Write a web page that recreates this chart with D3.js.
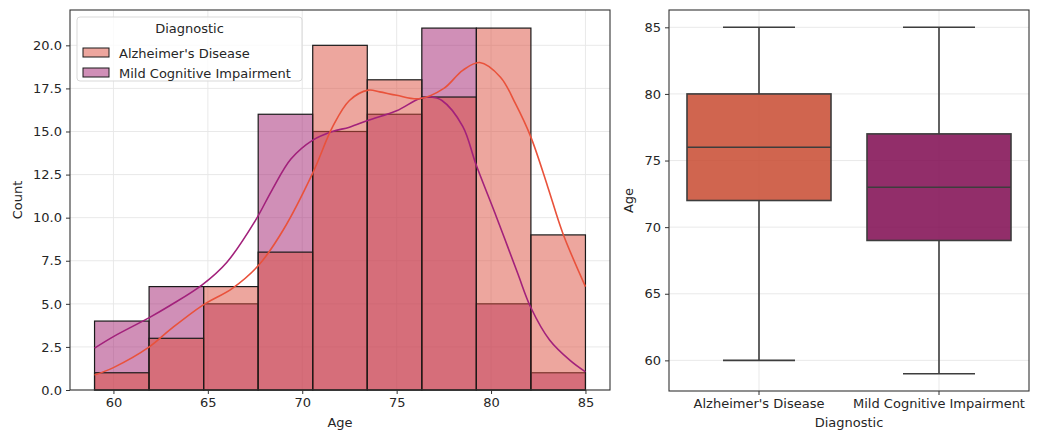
<!DOCTYPE html>
<html>
<head>
<meta charset="utf-8">
<script src="https://cdn.jsdelivr.net/npm/d3@7"></script>
<style>
    body { margin: 0; background: #fff; }
    svg { font-family: "DejaVu Sans", sans-serif; }
    .grid line { stroke: #e6e6e6; stroke-width: 0.9; }
    .axis path, .axis line { stroke: #333; }
    .axis text { font-family: "DejaVu Sans", sans-serif; font-size: 13px; fill: #262626; }
</style>
</head>
<body>
<div id="chart"></div>
<script>

// categories
const diagnostics = ["Alzheimer's Disease", "Mild Cognitive Impairment"];

// histogram: 9 bins between youngest and oldest age
const ageMin = 59;
const ageMax = 85;
const binCount = 9;
const adCounts = [1, 3, 6, 8, 20, 18, 17, 21, 9];
const mciCounts = [4, 6, 5, 16, 15, 16, 21, 5, 1];

// kde curves, [age, count]
const adKde = [
    [59, 0.87], [60, 1.3], [61.9, 2.5], [63, 3.5], [64.7, 4.9], [66.3, 5.9], [67.7, 7.25],
    [69, 9.3], [70.56, 12.6], [71.6, 15.25], [72.5, 16.8], [73.5, 17.4],
    [74.1, 17.3], [75, 17.1], [76.2, 16.9], [77.5, 17.5], [78.5, 18.55], [79.4, 19.0],
    [80.5, 18.15], [81.3, 16.6], [82.1, 14.7], [83, 11.8], [83.8, 9.1], [85, 6.0]
];
const mciKde = [
    [59, 2.43], [60, 3.1], [61.9, 4.2], [63, 4.9], [64.7, 6.1], [66, 7.4], [67.5, 9.8],
    [68.4, 11.6], [69.4, 13.4], [70.56, 14.5], [71.6, 15.0], [72.5, 15.25], [73.5, 15.65],
    [75, 16.2], [76.2, 16.9], [76.8, 17.0], [77.4, 16.8], [78.5, 15.3], [79.2, 13.1],
    [80.3, 10.0], [81.4, 6.8], [82.1, 4.8], [83.1, 2.9], [84.2, 1.7], [85, 1.05]
];

// box plot stats per diagnostic
const boxMin = [60, 59];
const boxQ1 = [72, 69];
const boxMedian = [76, 73];
const boxQ3 = [80, 77];
const boxMax = [85, 85];

// tick labels
const countTicks = [0, 2.5, 5, 7.5, 10, 12.5, 15, 17.5, 20];
const ageTicks = [60, 65, 70, 75, 80, 85];

const colors = {
    ad: "#dc4e3d",
    mci: "#a1206f",
    adLine: "#e9523b",
    mciLine: "#a2217b",
    adBox: "#c84a30",
    mciBox: "#7f0950"
};

const svg = d3.select("#chart").append("svg")
    .attr("width", 1041)
    .attr("height", 432);

/*
 *  Left panel: layered histogram with kde
 */
function drawHistogram() {
    let m = {left: 70, top: 10, width: 540, height: 380};
    let g = svg.append("g").attr("transform", "translate(" + m.left + "," + m.top + ")");

    let pad = (ageMax - ageMin) * 0.05;
    let x = d3.scaleLinear().domain([ageMin - pad, ageMax + pad]).range([0, m.width]);
    let yMax = d3.max(adCounts.concat(mciCounts)) * 1.05;
    let y = d3.scaleLinear().domain([0, yMax]).range([m.height, 0]);

    // grid
    g.append("g").attr("class", "grid")
        .selectAll("line.h").data(countTicks).join("line")
        .attr("x1", 0).attr("x2", m.width)
        .attr("y1", d => y(d)).attr("y2", d => y(d));
    g.append("g").attr("class", "grid")
        .selectAll("line.v").data(ageTicks).join("line")
        .attr("y1", 0).attr("y2", m.height)
        .attr("x1", d => x(d)).attr("x2", d => x(d));

    let edges = d3.range(binCount + 1).map(i => ageMin + i * (ageMax - ageMin) / binCount);

    // MCI drawn first, AD layered on top
    [[mciCounts, colors.mci], [adCounts, colors.ad]].forEach(([counts, col]) => {
        g.append("g").selectAll("rect").data(counts).join("rect")
            .attr("x", (d, i) => x(edges[i]))
            .attr("width", (d, i) => x(edges[i + 1]) - x(edges[i]))
            .attr("y", d => y(d))
            .attr("height", d => m.height - y(d))
            .attr("fill", col)
            .attr("fill-opacity", 0.5)
            .attr("stroke", "#1a1a1a")
            .attr("stroke-width", 1.2);
    });

    let line = d3.line()
        .x(d => x(d[0]))
        .y(d => y(d[1]))
        .curve(d3.curveCatmullRom.alpha(0.5));

    g.append("path").datum(mciKde)
        .attr("fill", "none").attr("stroke", colors.mciLine).attr("stroke-width", 1.6)
        .attr("d", line);
    g.append("path").datum(adKde)
        .attr("fill", "none").attr("stroke", colors.adLine).attr("stroke-width", 1.6)
        .attr("d", line);

    // axes
    g.append("g").attr("class", "axis")
        .attr("transform", "translate(0," + m.height + ")")
        .call(d3.axisBottom(x).tickValues(ageTicks).tickSize(4).tickPadding(4))
        .call(a => a.select(".domain").remove());
    g.append("g").attr("class", "axis")
        .call(d3.axisLeft(y).tickValues(countTicks).tickFormat(d3.format(".1f")).tickSize(4).tickPadding(4))
        .call(a => a.select(".domain").remove());

    g.append("rect")
        .attr("width", m.width).attr("height", m.height)
        .attr("fill", "none").attr("stroke", "#333").attr("stroke-width", 1.1);

    g.append("text")
        .attr("x", m.width / 2).attr("y", m.height + 37)
        .attr("text-anchor", "middle").attr("font-size", 13).attr("fill", "#262626")
        .text("Age");
    g.append("text")
        .attr("transform", "translate(-48," + m.height / 2 + ") rotate(-90)")
        .attr("text-anchor", "middle").attr("font-size", 13).attr("fill", "#262626")
        .text("Count");

    // legend
    let lg = g.append("g").attr("transform", "translate(7,7)");
    lg.append("rect")
        .attr("width", 225).attr("height", 64).attr("rx", 3)
        .attr("fill", "#fff").attr("fill-opacity", 0.8)
        .attr("stroke", "#d9d9d9");
    lg.append("text")
        .attr("x", 112.5).attr("y", 16)
        .attr("text-anchor", "middle").attr("font-size", 13).attr("fill", "#262626")
        .text("Diagnostic");
    let legendColors = [colors.ad, colors.mci];
    diagnostics.forEach((name, i) => {
        let row = lg.append("g").attr("transform", "translate(0," + (36 + i * 20) + ")");
        row.append("rect")
            .attr("x", 6).attr("y", -5).attr("width", 26).attr("height", 9)
            .attr("fill", legendColors[i]).attr("fill-opacity", 0.5)
            .attr("stroke", "#1a1a1a");
        row.append("text")
            .attr("x", 42).attr("y", 5)
            .attr("font-size", 13).attr("fill", "#262626")
            .text(name);
    });
}

/*
 *  Right panel: box plot of age per diagnostic
 */
function drawBoxplot() {
    let m = {left: 669, top: 10, width: 360, height: 381};
    let g = svg.append("g").attr("transform", "translate(" + m.left + "," + m.top + ")");

    let x = d3.scaleBand().domain(diagnostics).range([0, m.width]);
    let lo = d3.min(boxMin), hi = d3.max(boxMax);
    let pad = (hi - lo) * 0.05;
    let y = d3.scaleLinear().domain([lo - pad, hi + pad]).range([m.height, 0]);

    g.append("g").attr("class", "grid")
        .selectAll("line").data(ageTicks).join("line")
        .attr("x1", 0).attr("x2", m.width)
        .attr("y1", d => y(d)).attr("y2", d => y(d));
    g.append("g").attr("class", "grid")
        .selectAll("line").data(diagnostics).join("line")
        .attr("y1", 0).attr("y2", m.height)
        .attr("x1", d => x(d) + x.bandwidth() / 2).attr("x2", d => x(d) + x.bandwidth() / 2);

    let boxW = x.bandwidth() * 0.8;
    let capW = boxW / 2;
    let boxColors = [colors.adBox, colors.mciBox];

    diagnostics.forEach((name, i) => {
        let cx = x(name) + x.bandwidth() / 2;
        let b = g.append("g");
        // whiskers
        b.append("line").attr("x1", cx).attr("x2", cx)
            .attr("y1", y(boxQ3[i])).attr("y2", y(boxMax[i]));
        b.append("line").attr("x1", cx).attr("x2", cx)
            .attr("y1", y(boxQ1[i])).attr("y2", y(boxMin[i]));
        b.append("line").attr("x1", cx - capW / 2).attr("x2", cx + capW / 2)
            .attr("y1", y(boxMax[i])).attr("y2", y(boxMax[i]));
        b.append("line").attr("x1", cx - capW / 2).attr("x2", cx + capW / 2)
            .attr("y1", y(boxMin[i])).attr("y2", y(boxMin[i]));
        b.append("rect")
            .attr("x", cx - boxW / 2).attr("width", boxW)
            .attr("y", y(boxQ3[i])).attr("height", y(boxQ1[i]) - y(boxQ3[i]))
            .attr("fill", boxColors[i]).attr("fill-opacity", 0.85);
        b.append("line").attr("x1", cx - boxW / 2).attr("x2", cx + boxW / 2)
            .attr("y1", y(boxMedian[i])).attr("y2", y(boxMedian[i]));
        b.selectAll("line, rect").attr("stroke", "#3d3d3d").attr("stroke-width", 1.6);
    });

    g.append("g").attr("class", "axis")
        .attr("transform", "translate(0," + m.height + ")")
        .call(d3.axisBottom(x).tickSize(4).tickPadding(4))
        .call(a => a.select(".domain").remove());
    g.append("g").attr("class", "axis")
        .call(d3.axisLeft(y).tickValues(ageTicks).tickSize(4).tickPadding(4))
        .call(a => a.select(".domain").remove());

    g.append("rect")
        .attr("width", m.width).attr("height", m.height)
        .attr("fill", "none").attr("stroke", "#333").attr("stroke-width", 1.1);

    g.append("text")
        .attr("x", m.width / 2).attr("y", m.height + 36)
        .attr("text-anchor", "middle").attr("font-size", 13).attr("fill", "#262626")
        .text("Diagnostic");
    g.append("text")
        .attr("transform", "translate(-36," + m.height / 2 + ") rotate(-90)")
        .attr("text-anchor", "middle").attr("font-size", 13).attr("fill", "#262626")
        .text("Age");
}

drawHistogram();
drawBoxplot();

</script>
</body>
</html>
